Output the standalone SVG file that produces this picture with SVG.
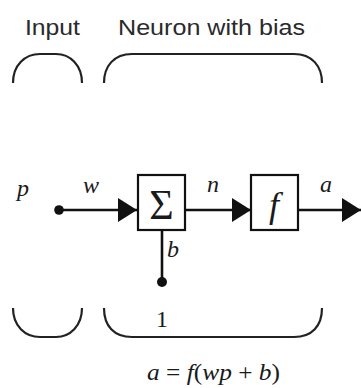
<svg xmlns="http://www.w3.org/2000/svg" width="361" height="388" viewBox="0 0 361 388">
<style>
.hdr{font-family:"Liberation Sans",Arial,sans-serif;font-size:22px;fill:#2a2a2a}
.it{font-family:"Liberation Serif","Times New Roman",serif;font-style:italic;font-size:24px;fill:#1a1a1a}
.rm{font-family:"Liberation Serif","Times New Roman",serif;font-size:24px;fill:#1a1a1a}
.br{fill:none;stroke:#222;stroke-width:2.2}
.box{fill:#fff;stroke:#111;stroke-width:2.2}
.ln{stroke:#111;stroke-width:2.6;fill:none}
</style>
<defs>
<marker id="ah" markerUnits="userSpaceOnUse" markerWidth="20" markerHeight="26" refX="19" refY="12" orient="auto" viewBox="0 0 20 24">
<path d="M0,0 L19,12 L0,24 Z" fill="#111"/>
</marker>
</defs>
<rect width="361" height="388" fill="#fff"/>
<g id="labels-top">
<text class="hdr" x="25" y="35" textLength="55" lengthAdjust="spacingAndGlyphs">Input</text>
<text class="hdr" x="118" y="35" textLength="187" lengthAdjust="spacingAndGlyphs">Neuron with bias</text>
</g>
<g id="brackets">
<path class="br" d="M13,83 C13,65 25,54 40,54 L56,54 C70,54 82,65 82,83"/>
<path class="br" d="M104,83 C104,66 114,54 132,54 L294,54 C312,54 322,66 322,83"/>
<path class="br" d="M13,308 C13,326 25,337 40,337 L56,337 C70,337 82,326 82,308"/>
<path class="br" d="M104,308 C104,326 114,337 132,337 L294,337 C312,337 322,326 322,308"/>
</g>
<g id="connectors">
<line class="ln" x1="60" y1="210" x2="137" y2="210" marker-end="url(#ah)"/>
<line class="ln" x1="185" y1="210" x2="251" y2="210" marker-end="url(#ah)"/>
<line class="ln" x1="298" y1="210" x2="361" y2="210" marker-end="url(#ah)"/>
<line class="ln" x1="162" y1="230" x2="162" y2="281"/>
</g>
<g id="input-p">
<circle cx="59" cy="210" r="4.8" fill="#111"/>
<text class="it" x="17" y="196">p</text>
</g>
<g id="sum">
<rect class="box" x="138" y="175" width="47" height="55"/>
<text class="rm" x="161.5" y="219" style="font-size:42px" text-anchor="middle">Σ</text>
</g>
<g id="transfer">
<rect class="box" x="251" y="175" width="47" height="55"/>
<text class="it" x="274" y="217" style="font-size:36px" text-anchor="middle">f</text>
</g>
<g id="bias">
<circle cx="162" cy="282" r="5" fill="#111"/>
<text class="it" x="167" y="257">b</text>
<text class="rm" x="156" y="327">1</text>
</g>
<g id="conn-labels">
<text class="it" x="83" y="193">w</text>
<text class="it" x="207" y="192">n</text>
<text class="it" x="320" y="192">a</text>
</g>
<g id="formula">
<text class="rm" x="147" y="380" textLength="133" lengthAdjust="spacingAndGlyphs"><tspan font-style="italic">a</tspan> = <tspan font-style="italic">f</tspan>(<tspan font-style="italic">wp</tspan> + <tspan font-style="italic">b</tspan>)</text>
</g>
</svg>
